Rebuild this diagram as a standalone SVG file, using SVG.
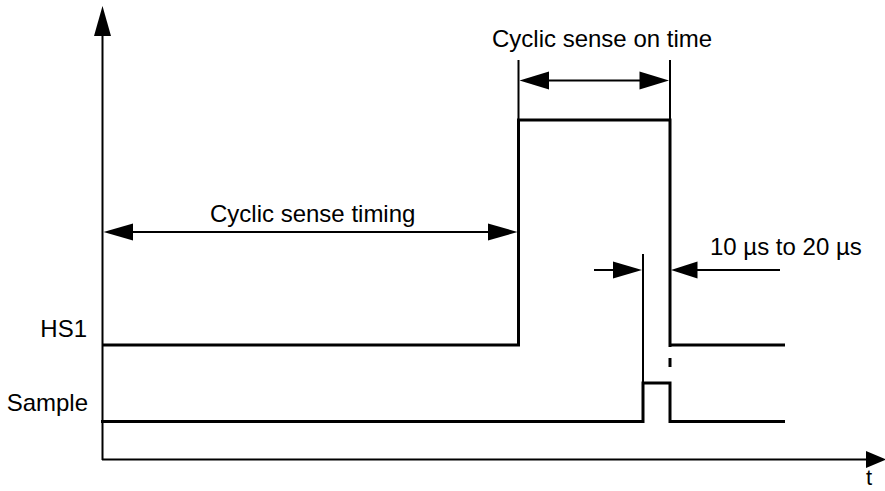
<svg xmlns="http://www.w3.org/2000/svg" width="885" height="491" viewBox="0 0 885 491">
<style>
text{font-family:"Liberation Sans",Arial,sans-serif;font-size:24px;fill:#000}
.ax{stroke:#000;stroke-width:2;fill:none}
.sig{stroke:#000;stroke-width:3;fill:none}
.thin{stroke:#000;stroke-width:2;fill:none}
.ah{fill:#000;stroke:none}
</style>
<rect width="885" height="491" fill="#fff"/>
<g id="axes">
<line class="ax" x1="102.5" y1="30" x2="102.5" y2="460"/>
<polygon class="ah" points="102.5,6 94,36 111,36"/>
<line class="ax" x1="102" y1="459.5" x2="870" y2="459.5"/>
<polygon class="ah" points="886,459.5 866,451 866,468"/>
<text x="866" y="485" style="font-size:22px">t</text>
</g>
<g id="hs1">
<text x="87" y="337" text-anchor="end">HS1</text>
<polyline class="sig" points="102,345 518.5,345 518.5,120 670,120 670,347"/>
<line class="sig" x1="670" y1="345" x2="785" y2="345"/>
<line class="sig" x1="670" y1="358" x2="670" y2="367"/>
</g>
<g id="sample">
<text x="88" y="411" text-anchor="end">Sample</text>
<polyline class="sig" points="101,421.5 643,421.5 643,383 670,383 670,421.5 785,421.5"/>
<line class="thin" x1="643" y1="254" x2="643" y2="383"/>
</g>
<g id="connectors">
<line class="thin" x1="518.5" y1="60" x2="518.5" y2="120"/>
<line class="thin" x1="670" y1="60" x2="670" y2="120"/>
<line class="thin" x1="540" y1="80.5" x2="650" y2="80.5"/>
<polygon class="ah" points="519.5,80.5 549,71.5 549,89.5"/>
<polygon class="ah" points="669,80.5 639.5,71.5 639.5,89.5"/>
<line class="thin" x1="125" y1="232" x2="495" y2="232"/>
<polygon class="ah" points="103.5,232 133,223.5 133,240.5"/>
<polygon class="ah" points="517.5,232 488,223.5 488,240.5"/>
<line class="thin" x1="594" y1="270" x2="620" y2="270"/>
<polygon class="ah" points="642,270 613,261.5 613,278.5"/>
<line class="thin" x1="690" y1="270" x2="780" y2="270"/>
<polygon class="ah" points="671,270 697.5,261.5 697.5,278.5"/>
</g>
<g id="labels">
<text x="492" y="47">Cyclic sense on time</text>
<text x="210" y="222">Cyclic sense timing</text>
<text x="710" y="255">10 µs to 20 µs</text>
</g>
</svg>
